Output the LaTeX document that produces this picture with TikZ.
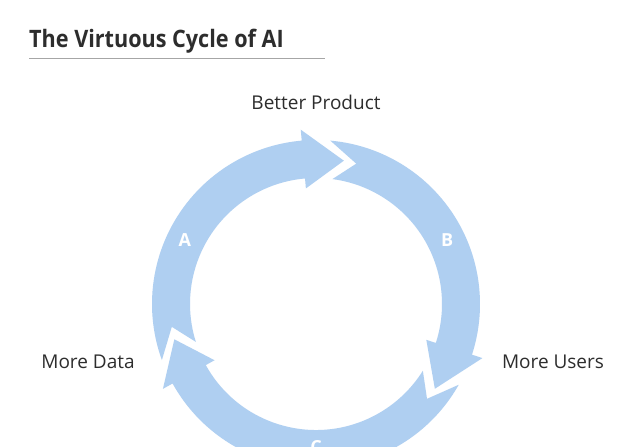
\documentclass[tikz,border=0pt]{standalone}
\usepackage{fontspec}
\setmainfont{Open Sans}
\newfontfamily\titlefont[FakeStretch=0.9]{Open Sans}
\usepackage{tikz}
\definecolor{ringblue}{RGB}{175,207,241}
\definecolor{textgray}{RGB}{45,45,45}

\begin{document}
\begin{tikzpicture}[x=1pt,y=1pt,
  cyclelabel/.style={text=textgray,font=\fontsize{19}{22}\selectfont},
  arrowletter/.style={text=white,font=\bfseries\fontsize{18}{20}\selectfont}]
  \useasboundingbox (0,0) rectangle (627,447);
  \clip (0,0) rectangle (627,447);
  \fill[white] (0,0) rectangle (627,447);

  % title and rule
  \node[anchor=base west, inner sep=0pt, text=textgray, font=\titlefont\bfseries\fontsize{24}{30}\selectfont] (title) at (29,399) {The Virtuous Cycle of AI};
  \draw[black!35, line width=0.8pt] (29,389) -- (325,389);

  % the cycle
  \begin{scope}[shift={(316,143)}]
  \fill[ringblue] (200:164) arc[start angle=200, end angle=95, radius=164pt] -- (95:175) -- (79:146) -- (95:116) -- (95:126) arc[start angle=95, end angle=197.5, radius=126pt] -- (189:146) -- cycle;
  \fill[ringblue] (85:164) arc[start angle=85, end angle=-18, radius=164pt] -- (-18:175) -- (-35.5:146) -- (-18:116) -- (-18:126) arc[start angle=-18, end angle=82.5, radius=126pt] -- (74:146) -- cycle;
  \fill[ringblue] (-29.5:164) arc[start angle=-29.5, end angle=-151, radius=164pt] -- (-151:175) -- (-166:146) -- (-151:116) -- (-151:126) arc[start angle=-151, end angle=-32, radius=126pt] -- (-40.5:146) -- cycle;

  \node[arrowletter] (la) at (154:146) {A};
  \node[arrowletter] (lb) at (26:146) {B};
  \node[arrowletter] (lc) at (270:143) {C};
  \end{scope}

  \node[cyclelabel] (product) at (316,345) {Better Product};
  \node[cyclelabel] (data) at (88,85) {More Data};
  \node[cyclelabel] (users) at (553,85) {More Users};
\end{tikzpicture}
\end{document}
